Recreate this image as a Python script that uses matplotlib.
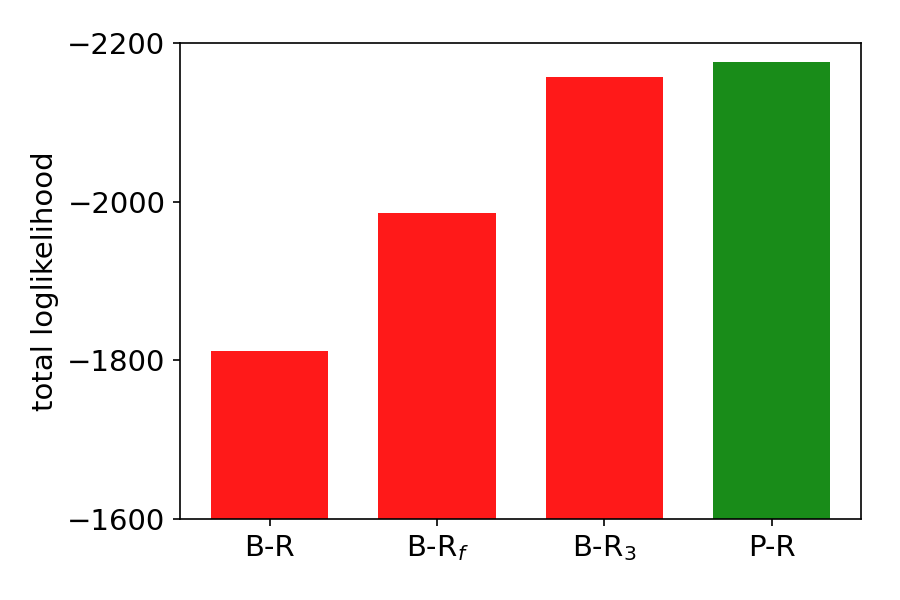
import matplotlib
matplotlib.use("Agg")
import matplotlib.pyplot as plt
import numpy as np

models = ["B-R", r"B-R$_f$", r"B-R$_3$", "P-R"]
loglik = [-1812, -1986, -2158, -2176]
colors = ["red", "red", "red", "green"]

fig, ax = plt.subplots(figsize=(6, 4), dpi=150)
index = np.arange(len(models))
base = -1600
ax.bar(index, [v - base for v in loglik], 0.7, bottom=base, color=colors, alpha=0.9)
ax.set_xticks(index)
ax.set_xticklabels(models, fontsize=14)
ax.set_ylim(-1600, -2200)
ax.set_yticks([-1600, -1800, -2000, -2200])
ax.tick_params(axis="y", labelsize=14)
ax.set_ylabel("total loglikelihood", fontsize=14)
fig.subplots_adjust(left=0.2, right=0.957, bottom=0.135, top=0.928)
fig.savefig("out.png")
